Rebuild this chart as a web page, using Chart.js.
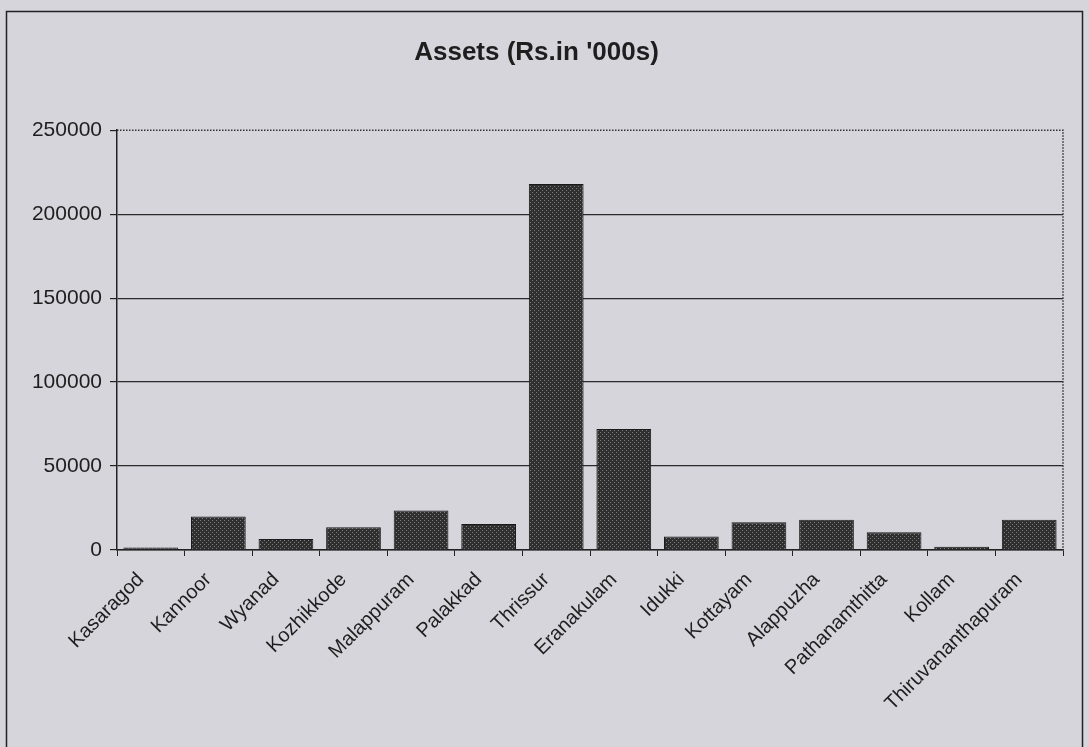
<!DOCTYPE html>
<html>
<head>
<meta charset="utf-8">
<script src="https://cdn.jsdelivr.net/npm/chart.js@4"></script>
<style>
  html, body { margin: 0; padding: 0; background: #d6d5dc; }
  #wrap { width: 1089px; height: 747px; position: relative; }
</style>
</head>
<body>
<div id="wrap"><canvas id="chart1" width="1089" height="747"></canvas></div>
<script>
// Datos
const districts = ['Kasaragod', 'Kannoor', 'Wyanad', 'Kozhikkode', 'Malappuram', 'Palakkad', 'Thrissur',
    'Eranakulam', 'Idukki', 'Kottayam', 'Alappuzha', 'Pathanamthitta', 'Kollam', 'Thiruvananthapuram']
const assets = [1500, 20000, 6500, 13500, 23500, 15500, 218000, 72000, 8000, 16500, 18000, 10500, 2000, 18000]
const yTicks = [0, 50000, 100000, 150000, 200000, 250000]

Chart.defaults.font.family = '"Liberation Sans", Arial, sans-serif'
Chart.defaults.color = '#1e1e1e'

// Trama punteada de las barras
function barPattern() {
    const c = document.createElement('canvas')
    c.width = 4
    c.height = 4
    const ctx = c.getContext('2d')
    ctx.fillStyle = '#2f2f2f'
    ctx.fillRect(0, 0, 4, 4)
    ctx.fillStyle = '#7d7d80'
    ctx.fillRect(0, 0, 1, 1)
    ctx.fillRect(2, 2, 1, 1)
    return ctx.createPattern(c, 'repeat')
}

// Marco exterior y borde punteado del área
const frame = {
    id: 'frame',
    beforeDraw(chart) {
        const ctx = chart.ctx
        ctx.save()
        ctx.fillStyle = '#d6d5dc'
        ctx.fillRect(0, 0, chart.width, chart.height)
        ctx.strokeStyle = '#222'
        ctx.lineWidth = 1.5
        ctx.strokeRect(6.5, 11.5, 1076, 760)
        ctx.restore()
    },
    afterDatasetsDraw(chart) {
        const { ctx, chartArea: a } = chart
        ctx.save()
        ctx.strokeStyle = '#333'
        ctx.lineWidth = 1.5
        ctx.setLineDash([1.5, 1.5])
        ctx.beginPath()
        ctx.moveTo(a.left, a.top)
        ctx.lineTo(a.right, a.top)
        ctx.lineTo(a.right, a.bottom)
        ctx.stroke()
        ctx.restore()
    }
}

const data = {
    labels: districts,
    datasets: [{
        data: assets,
        backgroundColor: barPattern(),
        borderColor: '#1a1a1a',
        borderWidth: 1,
        barPercentage: 0.81,
        categoryPercentage: 1
    }]
}

const options = {
    responsive: false,
    animation: false,
    layout: { padding: { left: 10, right: 26, top: 0, bottom: 0 } },
    plugins: {
        legend: { display: false },
        tooltip: { enabled: false },
        title: {
            display: true,
            text: "Assets (Rs.in '000s)",
            font: { size: 26, weight: 'bold' },
            color: '#1e1e1e',
            padding: { top: 37, bottom: 62 }
        }
    },
    scales: {
        x: {
            offset: true,
            grid: {
                offset: true,
                drawOnChartArea: false,
                drawTicks: true,
                tickLength: 6,
                tickColor: '#222'
            },
            border: { color: '#222', width: 1.5 },
            ticks: {
                maxRotation: 45,
                minRotation: 45,
                autoSkip: false,
                font: { size: 20 },
                padding: 12,
                labelOffset: -10
            },
            afterFit(scale) { scale.height = 197 }
        },
        y: {
            min: 0,
            max: 250000,
            afterBuildTicks(scale) { scale.ticks = yTicks.map(v => ({ value: v })) },
            grid: {
                color: ctx => ctx.tick && ctx.tick.value === 250000 ? 'rgba(0,0,0,0)' : '#2a2a2a',
                lineWidth: 1.2,
                tickLength: 7,
                tickColor: '#222'
            },
            border: { color: '#222', width: 1.5 },
            ticks: {
                font: { size: 21 },
                padding: 8,
                callback: v => String(v)
            },
            afterFit(scale) { scale.width = 107 }
        }
    }
}

new Chart('chart1', { type: 'bar', data, options, plugins: [frame] })
</script>
</body>
</html>
